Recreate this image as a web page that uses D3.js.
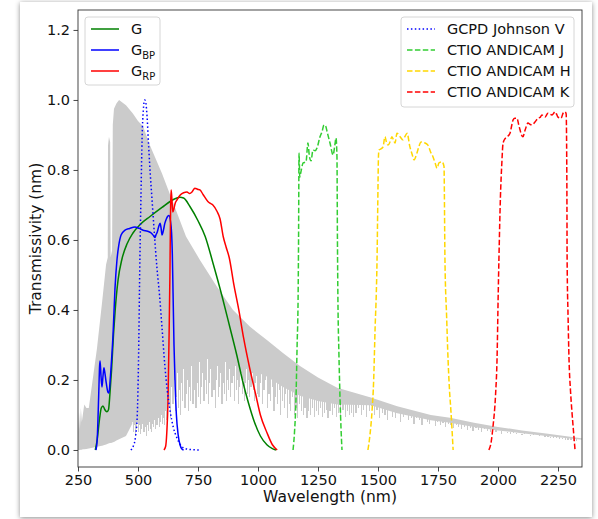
<!DOCTYPE html>
<html>
<head>
<meta charset="utf-8">
<script src="https://cdn.jsdelivr.net/npm/d3@7"></script>
<style>
  html, body { margin: 0; padding: 0; background: #ffffff; }
  body { width: 598px; height: 519px; position: relative; overflow: hidden; }
  #card {
    position: absolute; left: 20px; top: 2px; width: 572px; height: 515px;
    background: #ffffff; box-shadow: 0 1px 5px rgba(0,0,0,0.45);
  }
  svg { position: absolute; left: 0; top: 0; }
  text { font-family: "DejaVu Sans", sans-serif; fill: #111; }
</style>
</head>
<body>
<div id="card"></div>
<svg id="chart" width="598" height="519"></svg>
<script>
// ---------- Solar spectrum (normalised) ----------
const specNm    = [250, 254, 258, 262, 266, 270, 276, 285, 295, 305, 329, 350, 367, 374, 375, 379, 384, 386, 392, 395, 400, 410, 421, 450, 480, 500, 521, 550, 600, 650, 700, 758, 829, 896, 967, 1037, 1104, 1175, 1250, 1330, 1470, 1580, 1720, 1800, 1900, 2000, 2100, 2200, 2340, 2350];
const specTop   = [0.05, 0.11, 0.06, 0.12, 0.08, 0.10, 0.13, 0.12, 0.12, 0.17, 0.29, 0.42, 0.53, 0.55, 0.87, 0.895, 0.88, 0.55, 0.57, 0.93, 0.975, 0.99, 1.0, 0.985, 0.96, 0.94, 0.925, 0.87, 0.79, 0.70, 0.61, 0.543, 0.466, 0.40, 0.352, 0.314, 0.277, 0.24, 0.207, 0.178, 0.15, 0.125, 0.10, 0.092, 0.078, 0.066, 0.056, 0.047, 0.034, 0.033];
const specFloor = [0.0, 0.0, 0.0, 0.001, 0.001, 0.002, 0.002, 0.003, 0.004, 0.006, 0.009, 0.012, 0.016, 0.018, 0.018, 0.019, 0.02, 0.02, 0.021, 0.022, 0.023, 0.027, 0.031, 0.04, 0.08, 0.085, 0.09, 0.11, 0.16, 0.21, 0.25, 0.27, 0.27, 0.25, 0.23, 0.21, 0.18, 0.155, 0.14, 0.13, 0.128, 0.105, 0.085, 0.078, 0.066, 0.056, 0.048, 0.04, 0.03, 0.03];
// the ultraviolet part stays solid to the floor; past this point the floor jumps up
const floorStepNm = 476;

// absorption lines reaching below the solid band
const lineNm  = [
  481, 485, 489, 494, 498, 503, 507, 511, 516, 520, 525, 529, 534, 538, 543, 547, 552, 556, 561, 565, 570, 574, 579, 583, 588, 592, 597, 601, 606, 610, 615, 619,
  624, 628, 633, 637, 642, 646, 651, 655, 660, 664, 669, 673, 678, 683, 687, 692, 696, 701, 706, 710, 715, 719, 724, 729, 733, 738, 742, 747, 752, 756,
  761, 766, 770, 775, 780, 784, 789, 794, 798, 803, 808, 812, 817, 822, 826, 831, 836, 840, 845, 850, 854, 859, 864, 868, 873, 878, 882, 887, 892, 896,
  901, 906, 910, 915, 920, 924, 929, 934, 938, 943, 948, 952, 957, 962, 966, 971, 976, 980, 985, 990, 994, 999,
  1004, 1011, 1018, 1025, 1032, 1039, 1046, 1053, 1060, 1067, 1074, 1081, 1088, 1095, 1102, 1109, 1116, 1123, 1130, 1137, 1144, 1151, 1158, 1165, 1172, 1180,
  1188, 1196, 1204, 1212, 1220, 1228, 1236, 1244, 1252, 1260, 1268, 1276, 1284, 1292, 1300, 1309, 1318, 1327, 1336, 1345, 1354, 1363, 1372, 1381, 1390, 1399,
  1408, 1419, 1430, 1441, 1452, 1463, 1474, 1485, 1496, 1507, 1518, 1529, 1540, 1551, 1562, 1573, 1584, 1595, 1606, 1617, 1628, 1639,
  1650, 1661, 1672, 1683, 1694, 1705, 1716, 1727, 1738, 1749, 1760, 1771, 1782, 1793, 1804, 1815, 1826, 1837, 1848,
  1860, 1872, 1884, 1896, 1908, 1920, 1932, 1944, 1956, 1968, 1980, 1992, 2004, 2016, 2028, 2040, 2052, 2064, 2076, 2088,
  2100, 2112, 2124, 2136, 2148, 2160, 2172, 2184, 2196, 2208, 2220, 2232, 2244, 2256, 2268, 2280, 2292, 2304, 2316, 2328];
const lineMin = [
  .05, .07, .04, .06, .08, .05, .07, .045, .06, .075, .05, .065, .04, .07, .055, .08, .06, .05, .075, .065, .085, .06, .07, .09, .065, .08, .1, .075, .09, .07, .11, .085,
  .1, .16, .12, .09, .18, .13, .2, .11, .15, .22, .12, .17, .1, .19, .14, .23, .12, .16, .2, .11, .18, .14, .24, .13, .17, .21, .12, .19, .15, .25,
  .13, .18, .22, .14, .2, .16, .26, .13, .19, .23, .15, .21, .17, .12, .2, .24, .15, .18, .22, .13, .19, .16, .25, .14, .2, .17, .23, .15, .19, .21,
  .14, .24, .17, .2, .13, .18, .22, .16, .2, .14, .19, .23, .16, .2, .15, .18, .22, .17, .14, .19, .21, .16,
  .15, .19, .13, .17, .2, .12, .16, .14, .18, .11, .15, .13, .17, .1, .14, .12, .16, .09, .13, .11, .15, .1, .12, .09, .13, .11,
  .1, .12, .09, .11, .1, .12, .095, .11, .1, .12, .095, .105, .115, .09, .11, .1, .12, .095, .105, .1, .115, .095, .11, .1, .105, .095,
  .105, .12, .1, .115, .095, .11, .125, .1, .115, .09, .105, .1, .085, .11, .095, .09, .105, .08, .095, .1, .085, .09,
  .075, .09, .085, .07, .09, .08, .075, .085, .068, .08, .072, .078, .065, .075, .07, .062, .072, .066, .06,
  .066, .058, .064, .055, .062, .057, .052, .06, .054, .05, .056, .05, .053, .047, .055, .049, .045, .051, .046, .048,
  .043, .048, .044, .041, .046, .04, .043, .038, .042, .039, .037, .041, .036, .039, .035, .038, .033, .036, .031, .03];

// ---------- Gaia passbands ----------
const gNm   = [322, 330, 340, 347, 354, 362, 370, 377, 383, 390, 398, 405, 417, 433, 455, 479, 510, 550, 600, 646, 675, 690, 717, 750, 780, 812, 850, 883, 912, 935, 960, 985, 1010, 1037, 1060, 1075];
const gVal  = [0, 0.03, 0.09, 0.12, 0.126, 0.115, 0.109, 0.115, 0.16, 0.23, 0.33, 0.4, 0.486, 0.545, 0.59, 0.62, 0.645, 0.667, 0.693, 0.715, 0.722, 0.72, 0.695, 0.655, 0.61, 0.535, 0.44, 0.35, 0.27, 0.2, 0.135, 0.08, 0.04, 0.015, 0.004, 0];

const bpNm  = [325, 330, 336, 340, 342, 346, 350, 354, 358, 362, 368, 375, 379, 384, 390, 396, 404, 412, 420, 430, 446, 465, 487, 505, 521, 540, 555, 565, 571, 575, 580, 587, 592, 596, 600, 605, 612, 618, 624, 629, 635, 640, 643, 646, 650, 655, 660, 667, 675, 683, 690];
const bpVal = [0, 0.03, 0.15, 0.24, 0.254, 0.21, 0.18, 0.21, 0.235, 0.22, 0.19, 0.165, 0.163, 0.2, 0.26, 0.33, 0.46, 0.54, 0.585, 0.615, 0.628, 0.633, 0.637, 0.633, 0.628, 0.625, 0.62, 0.612, 0.607, 0.615, 0.622, 0.64, 0.648, 0.635, 0.614, 0.625, 0.648, 0.66, 0.668, 0.67, 0.655, 0.62, 0.56, 0.45, 0.3, 0.18, 0.1, 0.045, 0.015, 0.003, 0];

const rpNm  = [608, 615, 620, 625, 630, 633, 636, 638, 641, 645, 650, 655, 662, 675, 690, 704, 715, 725, 737, 748, 758, 771, 791, 800, 812, 829, 842, 855, 867, 880, 900, 920, 940, 965, 990, 1010, 1037, 1060, 1080];
const rpVal = [0, 0.01, 0.05, 0.14, 0.35, 0.5, 0.7, 0.743, 0.72, 0.68, 0.69, 0.705, 0.714, 0.728, 0.735, 0.737, 0.733, 0.737, 0.748, 0.745, 0.743, 0.73, 0.71, 0.705, 0.7, 0.682, 0.66, 0.61, 0.58, 0.55, 0.47, 0.4, 0.32, 0.235, 0.16, 0.1, 0.05, 0.015, 0];

// ---------- Ground-based filters ----------
const vNm   = [470, 480, 490, 497, 502, 508, 513, 517, 522, 528, 533, 538, 545, 551, 558, 568, 579, 590, 600, 612, 622, 633, 647, 662, 677, 690, 710, 760];
const vVal  = [0, 0.01, 0.04, 0.1, 0.25, 0.55, 0.75, 0.89, 0.97, 1.0, 0.99, 0.95, 0.86, 0.79, 0.72, 0.62, 0.52, 0.44, 0.35, 0.24, 0.17, 0.115, 0.065, 0.035, 0.015, 0.006, 0.002, 0];

const jNm   = [1146, 1152, 1158, 1163, 1167, 1169, 1171, 1174, 1179, 1188, 1200, 1208, 1214, 1221, 1229, 1238, 1246, 1258, 1267, 1275, 1282, 1288, 1300, 1313, 1320, 1325, 1329, 1331, 1333, 1337, 1342, 1346, 1350];
const jVal  = [0, 0.05, 0.14, 0.3, 0.43, 0.6, 0.848, 0.78, 0.795, 0.82, 0.823, 0.877, 0.84, 0.826, 0.857, 0.855, 0.863, 0.894, 0.91, 0.929, 0.925, 0.909, 0.877, 0.843, 0.87, 0.891, 0.838, 0.6, 0.43, 0.28, 0.143, 0.06, 0];

const hNm   = [1458, 1466, 1475, 1482, 1488, 1493, 1496, 1499, 1502, 1504, 1512, 1521, 1529, 1535, 1542, 1550, 1558, 1565, 1571, 1579, 1592, 1604, 1612, 1621, 1633, 1642, 1650, 1662, 1672, 1679, 1696, 1708, 1720, 1729, 1738, 1746, 1754, 1767, 1775, 1779, 1786, 1792, 1798, 1804, 1813];
const hVal  = [0, 0.04, 0.11, 0.2, 0.35, 0.45, 0.543, 0.7, 0.84, 0.857, 0.86, 0.866, 0.895, 0.88, 0.871, 0.88, 0.895, 0.885, 0.877, 0.905, 0.895, 0.886, 0.895, 0.905, 0.866, 0.845, 0.829, 0.848, 0.87, 0.88, 0.877, 0.871, 0.85, 0.838, 0.82, 0.805, 0.82, 0.823, 0.81, 0.543, 0.38, 0.257, 0.17, 0.11, 0];

const kNm   = [1962, 1972, 1979, 1990, 1996, 2001, 2004, 2010, 2016, 2021, 2030, 2037, 2050, 2058, 2063, 2070, 2079, 2086, 2092, 2098, 2104, 2113, 2125, 2134, 2142, 2154, 2167, 2175, 2183, 2196, 2208, 2225, 2238, 2245, 2250, 2263, 2271, 2279, 2284, 2287, 2288, 2292, 2296, 2302, 2308, 2315, 2321];
const kVal  = [0, 0.025, 0.066, 0.16, 0.26, 0.45, 0.55, 0.72, 0.82, 0.876, 0.89, 0.894, 0.905, 0.93, 0.943, 0.948, 0.948, 0.93, 0.914, 0.9, 0.895, 0.914, 0.934, 0.93, 0.929, 0.937, 0.948, 0.95, 0.957, 0.951, 0.962, 0.957, 0.966, 0.958, 0.951, 0.948, 0.962, 0.966, 0.96, 0.75, 0.543, 0.38, 0.257, 0.17, 0.11, 0.05, 0];

// ---------- Axes ----------
const xTicks = [250, 500, 750, 1000, 1250, 1500, 1750, 2000, 2250];
const yTicks = [0.0, 0.2, 0.4, 0.6, 0.8, 1.0, 1.2];
const xLabel = "Wavelength (nm)";
const yLabel = "Transmissivity (nm)";

const margin = { left: 78, top: 10, right: 582, bottom: 467 };
const x = d3.scaleLinear().domain([250, 2350]).range([margin.left, margin.right]);
const y = d3.scaleLinear().domain([-0.0486, 1.257]).range([margin.bottom, margin.top]);

const svg = d3.select("#chart");
svg.append("defs").append("clipPath").attr("id", "plotClip")
  .append("rect").attr("x", margin.left).attr("y", margin.top)
  .attr("width", margin.right - margin.left).attr("height", margin.bottom - margin.top);

const plot = svg.append("g").attr("clip-path", "url(#plotClip)");
const greyCol = "#cbcbcb";

// solid spectrum band
const specRows = specNm.map((nm, i) => ({ nm, top: specTop[i], floor: specFloor[i] }));
const spec = [];
specRows.forEach((r, i) => {
  spec.push(r);
  const nxt = specRows[i + 1];
  if (nxt && r.nm < floorStepNm && nxt.nm > floorStepNm) {
    const t = (floorStepNm - r.nm) / (nxt.nm - r.nm);
    const top = r.top + t * (nxt.top - r.top);
    spec.push({ nm: floorStepNm, top, floor: r.floor + t * (nxt.floor - r.floor) });
    spec.push({ nm: floorStepNm + 0.01, top, floor: 0.08 });
  }
});
plot.append("path").datum(spec)
  .attr("fill", greyCol)
  .attr("d", d3.area().x(d => x(d.nm)).y0(d => y(d.floor)).y1(d => y(d.top)));

// absorption lines
const topAt = nm => {
  const i = d3.bisectRight(specNm, nm);
  const a = i - 1, b = Math.min(i, specNm.length - 1);
  const t = specNm[b] === specNm[a] ? 0 : (nm - specNm[a]) / (specNm[b] - specNm[a]);
  return specTop[a] + t * (specTop[b] - specTop[a]);
};
plot.append("g").attr("shape-rendering", "crispEdges")
  .selectAll("line").data(lineNm.map((nm, i) => ({ nm, v: lineMin[i] })))
  .join("line")
  .attr("x1", d => x(d.nm)).attr("x2", d => x(d.nm))
  .attr("y1", d => y(d.v)).attr("y2", d => y(topAt(d.nm) - 0.01))
  .attr("stroke", greyCol).attr("stroke-width", 1.2);

// curves
const curves = [
  { nm: gNm,  v: gVal,  color: "#008000", dash: null },
  { nm: bpNm, v: bpVal, color: "#0000ff", dash: null },
  { nm: rpNm, v: rpVal, color: "#ff0000", dash: null },
  { nm: vNm,  v: vVal,  color: "#0000ff", dash: "1.5,2.4" },
  { nm: jNm,  v: jVal,  color: "#32cd32", dash: "5.5,2.4" },
  { nm: hNm,  v: hVal,  color: "#ffd700", dash: "5.5,2.4" },
  { nm: kNm,  v: kVal,  color: "#ff0000", dash: "5.5,2.4" }
];
const line = d3.line().x(d => x(d[0])).y(d => y(d[1])).curve(d3.curveMonotoneX);
curves.forEach(c => {
  plot.append("path").datum(c.nm.map((n, i) => [n, c.v[i]]))
    .attr("fill", "none").attr("stroke", c.color).attr("stroke-width", 1.5)
    .attr("stroke-dasharray", c.dash).attr("d", line);
});

// axes
const xAxis = svg.append("g").attr("transform", `translate(0,${margin.bottom})`)
  .call(d3.axisBottom(x).tickValues(xTicks).tickFormat(d3.format("d")).tickSize(4.5).tickPadding(3.5));
const yAxis = svg.append("g").attr("transform", `translate(${margin.left},0)`)
  .call(d3.axisLeft(y).tickValues(yTicks).tickFormat(d3.format(".1f")).tickSize(4.5).tickPadding(3.5));
[xAxis, yAxis].forEach(a => {
  a.select(".domain").remove();
  a.selectAll(".tick line").attr("stroke", "#333").attr("stroke-width", 0.9);
  a.selectAll(".tick text").attr("font-size", 14.5).attr("fill", "#111")
    .attr("font-family", "DejaVu Sans, sans-serif");
});
svg.append("rect").attr("x", margin.left).attr("y", margin.top)
  .attr("width", margin.right - margin.left).attr("height", margin.bottom - margin.top)
  .attr("fill", "none").attr("stroke", "#333").attr("stroke-width", 0.9);

svg.append("text").attr("x", (margin.left + margin.right) / 2).attr("y", 502)
  .attr("text-anchor", "middle").attr("font-size", 15.5).text(xLabel);
svg.append("text").attr("transform", `translate(41,${(margin.top + margin.bottom) / 2}) rotate(-90)`)
  .attr("text-anchor", "middle").attr("font-size", 15.5).text(yLabel);

// legends
function legend(x0, y0, w, h, items) {
  const g = svg.append("g");
  g.append("rect").attr("x", x0).attr("y", y0).attr("width", w).attr("height", h)
    .attr("rx", 3).attr("fill", "#fff").attr("fill-opacity", 0.8)
    .attr("stroke", "#d6d6d6").attr("stroke-width", 1);
  items.forEach((it, i) => {
    const cy = y0 + 12 + i * 21;
    g.append("line").attr("x1", x0 + 6).attr("x2", x0 + 34).attr("y1", cy).attr("y2", cy)
      .attr("stroke", it.color).attr("stroke-width", 1.5).attr("stroke-dasharray", it.dash);
    const t = g.append("text").attr("x", x0 + 46).attr("y", cy + 5).attr("font-size", 14.5);
    t.append("tspan").text(it.label);
    if (it.sub) t.append("tspan").attr("font-size", 10).attr("dy", 4).text(it.sub);
  });
}
legend(85, 17, 75, 68, [
  { label: "G", color: "#008000" },
  { label: "G", sub: "BP", color: "#0000ff" },
  { label: "G", sub: "RP", color: "#ff0000" }
]);
legend(401, 17, 173, 90, [
  { label: "GCPD Johnson V", color: "#0000ff", dash: "1.5,2.4" },
  { label: "CTIO ANDICAM J", color: "#32cd32", dash: "5.5,2.4" },
  { label: "CTIO ANDICAM H", color: "#ffd700", dash: "5.5,2.4" },
  { label: "CTIO ANDICAM K", color: "#ff0000", dash: "5.5,2.4" }
]);
</script>
</body>
</html>
